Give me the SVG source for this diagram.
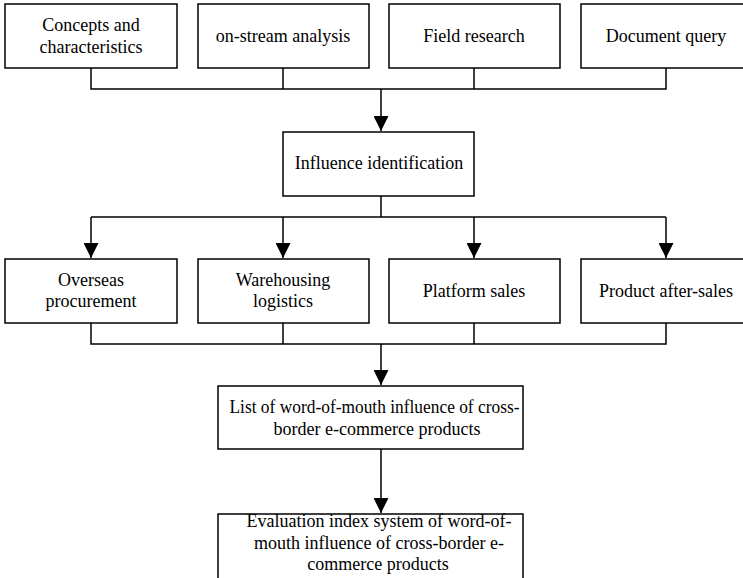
<svg xmlns="http://www.w3.org/2000/svg" width="743" height="578" viewBox="0 0 743 578">
<style>
.box{fill:#fff;stroke:#000;stroke-width:1.5}
.ln{fill:none;stroke:#000;stroke-width:1.5}
.t text{text-anchor:middle}
</style>
<defs>
<marker id="ah" markerWidth="15" markerHeight="15" refX="15" refY="7.5" orient="auto" markerUnits="userSpaceOnUse">
<path d="M0,0 L15,7.5 L0,15 Z" fill="#000"/>
</marker>
</defs>
<rect width="743" height="578" fill="#fff"/>
<g id="connectors">
<path class="ln" d="M91,68 V89 H666 V68 M283,68 V89 M474,68 V89"/>
<path class="ln" d="M381,89 V131" marker-end="url(#ah)"/>
<path class="ln" d="M381,196 V217 H91 M381,217 H666"/>
<path class="ln" d="M91,217 V258" marker-end="url(#ah)"/>
<path class="ln" d="M283,217 V258" marker-end="url(#ah)"/>
<path class="ln" d="M474,217 V258" marker-end="url(#ah)"/>
<path class="ln" d="M666,217 V258" marker-end="url(#ah)"/>
<path class="ln" d="M91,323 V344 H666 V323 M283,323 V344 M474,323 V344"/>
<path class="ln" d="M381,344 V385" marker-end="url(#ah)"/>
<path class="ln" d="M381,449 V513" marker-end="url(#ah)"/>
</g>
<g class="t" font-family="'Liberation Serif', 'DejaVu Serif', serif" font-size="18" fill="#000">
<g id="n1"><rect class="box" x="5" y="4" width="172" height="64"/><text x="91" y="31">Concepts and</text><text x="91" y="53">characteristics</text></g>
<g id="n2"><rect class="box" x="198" y="4" width="171" height="64"/><text x="283" y="42">on-stream analysis</text></g>
<g id="n3"><rect class="box" x="389" y="4" width="171" height="64"/><text x="474" y="42">Field research</text></g>
<g id="n4"><rect class="box" x="581" y="4" width="172" height="64"/><text x="666" y="42">Document query</text></g>
<g id="n5"><rect class="box" x="283" y="132" width="191" height="64"/><text x="379" y="169">Influence identification</text></g>
<g id="n6"><rect class="box" x="5" y="259" width="172" height="64"/><text x="91" y="286">Overseas</text><text x="91" y="307">procurement</text></g>
<g id="n7"><rect class="box" x="198" y="259" width="171" height="64"/><text x="283" y="286">Warehousing</text><text x="283" y="307">logistics</text></g>
<g id="n8"><rect class="box" x="389" y="259" width="171" height="64"/><text x="474" y="297">Platform sales</text></g>
<g id="n9"><rect class="box" x="581" y="259" width="172" height="64"/><text x="666" y="297">Product after-sales</text></g>
<g id="n10"><rect class="box" x="218" y="386" width="305" height="63"/><text x="374.5" y="413" textLength="290" lengthAdjust="spacingAndGlyphs">List of word-of-mouth influence of cross-</text><text x="377" y="435">border e-commerce products</text></g>
<g id="n11"><rect class="box" x="218" y="514" width="305" height="70"/><text x="379" y="527">Evaluation index system of word-of-</text><text x="379" y="549">mouth influence of cross-border e-</text><text x="378" y="570">commerce products</text></g>
</g>
</svg>
